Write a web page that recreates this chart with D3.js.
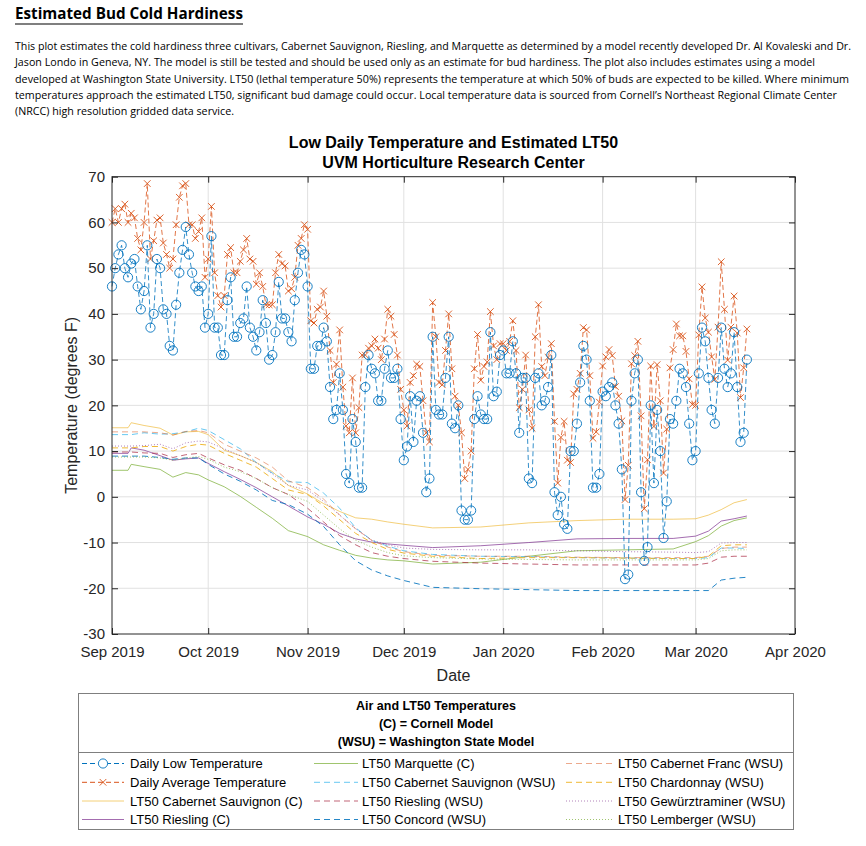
<!DOCTYPE html>
<html>
<head>
<meta charset="utf-8">
<script src="https://cdn.jsdelivr.net/npm/d3@7"></script>
<style>
  body { margin: 0; background: #fff; }
  svg text { font-family: "Liberation Sans", Arial, Helvetica, sans-serif; fill: #262626; }
  .doc { font-family: "Liberation Sans Narrow", "Open Sans", sans-serif; fill: #000; }
</style>
</head>
<body>
<div id="chart"></div>
<script>
// ---- data ----
const startDate = new Date(2019, 8, 1); // first daily value (Sep 1 2019)

// daily low temperature (F), one value per day
const lowTemps = [
  46, 50, 53, 55, 50, 48, 51, 52, 46, 41,
  45, 55, 37, 40, 52, 50, 41, 40, 33, 32,
  42, 49, 54, 59, 53, 49, 46, 45, 46, 37,
  40, 57, 37, 37, 31, 31, 43, 48, 35, 35,
  38, 39, 46, 37, 35, 32, 36, 43, 38, 30,
  31, 36, 47, 39, 39, 36, 34, 43, 49, 54,
  53, 46, 28, 28, 33, 33, 37, 34, 24, 17,
  19, 27, 19, 5, 3, 17, 12, 2, 2, 24,
  31, 28, 27, 21, 21, 28, 32, 26, 26, 28,
  17, 8, 11, 22, 12, 21, 22, 14, 1, 4,
  35, 19, 18, 18, 26, 35, 16, 15, 20, -3,
  -5, -5, -3, 17, 22, 18, 17, 17, 36, 22,
  23, 31, 32, 27, 27, 34, 27, 14, 26, 26,
  4, 3, 26, 27, 20, 21, 24, 31, 1, -4,
  0, -6, -7, 10, 10, 16, 25, 33, 30, 21,
  2, 2, 5, 23, 22, 24, 25, 20, 16, 6,
  -18, -17, 21, 27, 30, 1, -14, -11, 20, 3,
  19, 10, -9, -1, 17, 16, 21, 28, 27, 24,
  16, 8, 10, 27, 37, 34, 26, 19, 16, 26,
  37, 28, 24, 27, 36, 24, 12, 14, 30
];

// daily average temperature (F)
const avgTemps = [
  60, 63, 60, 63, 64, 60, 62, 61, 56.5, 54,
  60, 68.5, 52, 56, 60.5, 61, 55.5, 53, 50, 52,
  59.5, 65.5, 68, 68.5, 59.5, 59.5, 56.5, 58, 61, 48,
  52, 63.5, 49, 44, 41.5, 44, 53, 54.5, 49, 49,
  51.5, 54, 56.5, 52, 51.5, 46.5, 49, 46, 42, 42,
  42, 49, 53, 51, 50.5, 45, 45.5, 48, 55, 56.5,
  59.5, 58.5, 38.5, 38, 41, 41.5, 45, 39.5, 32, 25,
  29, 36.5, 24, 15.5, 14, 26, 14, 19.5, 31, 31,
  32.5, 33, 34.5, 32.5, 30, 34.5, 41, 39.5, 35.5, 31,
  23.5, 19, 15.5, 25, 26.5, 29, 28.5, 21, 14, 12,
  42.5, 35, 25, 24.5, 32, 40, 28, 22, 20, 14,
  4, 6, 10, 28, 35.5, 25.5, 28.5, 29.5, 40.5, 33,
  30, 33.5, 33.5, 32, 34, 38.5, 32, 19.5, 23.5, 31,
  19, 15, 35, 42, 28.5, 26.5, 30.5, 33.5, 16.5, 3,
  13, 16.5, 8, 7.5, 22.5, 23.5, 27, 37, 36.5, 26.5,
  12.8, 14.2, 20.7, 28.6, 30.6, 32.2, 30.9, 24.1, 22, 16.6,
  -0.6, 6.9, 29.1, 30.9, 34, 17.7, -2.6, 8.1, 28.6, 15.4,
  28.9, 21, 5.2, 14.8, 28.2, 32.2, 37.8, 35.2, 35.2, 31.8,
  25.8, 20.2, 20, 35.4, 45.9, 39.1, 36, 30.6, 25.7, 37.1,
  51.4, 41, 29.9, 37.1, 43.9, 35.8, 21.7, 28.2, 36.7
];

// LT50 estimates, read at these day offsets from startDate
const lt50Days = [0, 5, 6, 10, 15, 19, 23, 27, 30, 35, 40, 45, 50, 55, 61, 66,
  71, 76, 81, 86, 91, 100, 115, 130, 145, 160, 175, 182, 186, 190, 194, 198];

const cabSauvC = [15.1, 15.1, 16.2, 15.6, 15, 13.5, 14.2, 14.3, 13.6, 10.2, 9, 7.5, 5.5, 2.5, 0.6, -1.5,
  -3.2, -4.6, -4.9, -5.5, -6, -6.8, -6.6, -5.7, -5.2, -4.9, -4.9, -4.8, -4, -2.8, -1.3, -0.6];
const rieslingC = [9.5, 9.5, 10.7, 10.2, 9, 8, 8.3, 8.5, 7.3, 5.5, 3.8, 2, 0, -2, -4.4, -6,
  -8, -9.2, -9.9, -10.3, -10.6, -11.1, -10.7, -10, -9.2, -9.1, -9.1, -8.6, -7.5, -5.3, -4.8, -4.2];
const marquetteC = [5.8, 5.8, 7.1, 6.6, 6, 4.3, 5.3, 4.8, 3.7, 2.2, 0.1, -2.3, -4.7, -7.4, -8.7, -10.5,
  -11.7, -12.8, -13.4, -13.8, -14, -14.7, -14.3, -13, -11.8, -11.6, -11.4, -9.8, -8.5, -6.4, -5.2, -4.6];
const cabSauvWSU = [13.6, 13.6, 13.6, 14, 13.7, 13.8, 14.2, 15, 14.5, 12.5, 10.5, 7.5, 5.2, 3.3, 3.1, 0.8,
  -2.5, -6.8, -9.5, -10.8, -11.8, -12.6, -13, -13.1, -13.3, -13.4, -13.5, -13.5, -13.3, -11.2, -11.2, -11.3];
const rieslingWSU = [9.8, 9.8, 9.8, 9.6, 9.5, 8.6, 9.2, 9.5, 8.5, 7, 5.8, 4, 2, 0.5, -2.5, -5.5,
  -8.5, -10.5, -12.2, -13, -13.5, -14.1, -14.5, -14.7, -14.9, -14.9, -14.9, -14.9, -14.5, -13.2, -13, -13];
const concordWSU = [8.9, 8.9, 8.9, 8.9, 8.6, 8.2, 8.5, 8.5, 7.1, 5, 3.4, 1.5, -0.8, -1.7, -3.8, -6.5,
  -10.5, -14, -16, -17.3, -18.3, -19.8, -20.1, -20.3, -20.5, -20.5, -20.5, -20.5, -20.5, -18.2, -17.8, -17.6];
const cabFrancWSU = [14.2, 14.2, 14.2, 14.2, 14, 13.5, 14.3, 14.5, 14, 11.5, 10, 8.5, 6.5, 3.5, 2, -0.5,
  -4, -7, -9.5, -11, -12, -12.8, -13, -13, -13.2, -13.3, -13.3, -13.3, -13, -11.3, -11, -11];
const chardonnayWSU = [10.7, 10.7, 10.7, 11, 11, 10, 11, 11.5, 11.3, 9.5, 8, 6.5, 4, 1.5, 0.5, -2,
  -5, -8, -10, -11.5, -12.3, -13, -13.5, -13.3, -13.3, -13.4, -13.5, -13.5, -13, -10.7, -10.5, -10.5];
const gewurzWSU = [11.1, 11.1, 11.1, 11.2, 11.5, 10.5, 11.8, 12.2, 12, 10.5, 9, 7.5, 5, 2.5, 1.5, -1,
  -4, -7, -9.5, -10.5, -11.2, -11.5, -11.6, -11.6, -11.8, -12, -12.1, -12.2, -12, -10.1, -10, -10];
const lembergerWSU = [8.7, 8.7, 8.7, 8.7, 8.5, 8, 8.5, 8.8, 8.2, 6.5, 5.5, 4, 2, 0.5, -1, -4,
  -7, -9.5, -11, -12.2, -12.9, -13.3, -13.6, -13.7, -13.8, -13.8, -13.8, -13.8, -13.5, -11.8, -11.6, -11.6];

const yTicks = [-30, -20, -10, 0, 10, 20, 30, 40, 50, 60, 70];
const monthTicks = [new Date(2019, 8, 1), new Date(2019, 9, 1), new Date(2019, 10, 1), new Date(2019, 11, 1),
  new Date(2020, 0, 1), new Date(2020, 1, 1), new Date(2020, 2, 1), new Date(2020, 3, 1)];

const pageTitle = 'Estimated Bud Cold Hardiness';
const introLines = [
  'This plot estimates the cold hardiness three cultivars, Cabernet Sauvignon, Riesling, and Marquette as determined by a model recently developed Dr. Al Kovaleski and Dr.',
  'Jason Londo in Geneva, NY. The model is still be tested and should be used only as an estimate for bud hardiness. The plot also includes estimates using a model',
  'developed at Washington State University. LT50 (lethal temperature 50%) represents the temperature at which 50% of buds are expected to be killed. Where minimum',
  'temperatures approach the estimated LT50, significant bud damage could occur. Local temperature data is sourced from Cornell\u2019s Northeast Regional Climate Center',
  '(NRCC) high resolution gridded data service.'
];
const introWidths = [836, 800, 834, 822, 219];
const chartTitle = ['Low Daily Temperature and Estimated LT50', 'UVM Horticulture Research Center'];
const legendTitle = ['Air and LT50 Temperatures', '(C) = Cornell Model', '(WSU) = Washington State Model'];

// LT50 series: name, values, colour, dash style, opacity
const lt50Series = [
  { name: 'LT50 Cabernet Sauvignon (C)', values: cabSauvC, color: '#EDB120', dash: null, op: 0.6 },
  { name: 'LT50 Riesling (C)', values: rieslingC, color: '#7E2F8E', dash: null, op: 0.7 },
  { name: 'LT50 Marquette (C)', values: marquetteC, color: '#77AC30', dash: null, op: 0.7 },
  { name: 'LT50 Cabernet Sauvignon (WSU)', values: cabSauvWSU, color: '#4DBEEE', dash: '6,4', op: 0.85 },
  { name: 'LT50 Riesling (WSU)', values: rieslingWSU, color: '#A2142F', dash: '6,4', op: 0.65 },
  { name: 'LT50 Concord (WSU)', values: concordWSU, color: '#0072BD', dash: '6,4', op: 0.85 },
  { name: 'LT50 Cabernet Franc (WSU)', values: cabFrancWSU, color: '#D95319', dash: '6,4', op: 0.5 },
  { name: 'LT50 Chardonnay (WSU)', values: chardonnayWSU, color: '#EDB120', dash: '6,4', op: 0.9 },
  { name: 'LT50 Gew\u00fcrztraminer (WSU)', values: gewurzWSU, color: '#7E2F8E', dash: '1,2', op: 0.6 },
  { name: 'LT50 Lemberger (WSU)', values: lembergerWSU, color: '#77AC30', dash: '1,2', op: 0.7 }
];

// ---- drawing ----
const W = 866, H = 846;
const plotL = 112, plotR = 795, plotT = 176.7, plotB = 634;

const svg = d3.select('#chart').append('svg')
  .attr('width', W).attr('height', H)
  .style('background', '#fff');

// page header
svg.append('text')
  .attr('class', 'doc')
  .attr('x', 15).attr('y', 19)
  .attr('textLength', 228).attr('lengthAdjust', 'spacingAndGlyphs')
  .style('font-size', '16px').style('font-weight', 'bold')
  .text(pageTitle);
svg.append('line')
  .attr('x1', 15).attr('x2', 243).attr('y1', 24).attr('y2', 24)
  .attr('stroke', '#000').attr('stroke-width', 1.2);

svg.selectAll('text.intro')
  .data(introLines)
  .enter()
  .append('text')
  .attr('class', 'doc intro')
  .attr('x', 15)
  .attr('y', (d, i) => 50 + i * 16.3)
  .attr('textLength', (d, i) => introWidths[i])
  .attr('lengthAdjust', 'spacingAndGlyphs')
  .style('font-size', '10px')
  .text(d => d);

const x = d3.scaleTime()
  .domain([monthTicks[0], monthTicks[monthTicks.length - 1]])
  .range([plotL, plotR]);
const y = d3.scaleLinear().domain([-30, 70]).range([plotB, plotT]);

const dayDate = i => d3.timeDay.offset(startDate, i);

// grid
const grid = svg.append('g');
grid.selectAll('line.gx')
  .data(monthTicks.slice(1, -1))
  .enter().append('line')
  .attr('x1', d => x(d)).attr('x2', d => x(d))
  .attr('y1', plotT).attr('y2', plotB)
  .attr('stroke', '#e1e1e1').attr('stroke-width', 1);
grid.selectAll('line.gy')
  .data(yTicks.slice(1, -1))
  .enter().append('line')
  .attr('x1', plotL).attr('x2', plotR)
  .attr('y1', d => y(d)).attr('y2', d => y(d))
  .attr('stroke', '#e1e1e1').attr('stroke-width', 1);

// LT50 lines
const ltLine = d3.line()
  .x((d, i) => x(dayDate(lt50Days[i])))
  .y(d => y(d));
svg.append('g')
  .selectAll('path')
  .data(lt50Series)
  .enter()
  .append('path')
  .attr('d', d => ltLine(d.values))
  .attr('fill', 'none')
  .attr('stroke', d => d.color)
  .attr('stroke-opacity', d => d.op)
  .attr('stroke-width', 1)
  .attr('stroke-dasharray', d => d.dash);

// daily temperatures
const dayLine = d3.line()
  .x((d, i) => x(dayDate(i)))
  .y(d => y(d));

svg.append('path')
  .attr('d', dayLine(avgTemps))
  .attr('fill', 'none').attr('stroke', '#D95319')
  .attr('stroke-width', 0.8).attr('stroke-dasharray', '5,3');
svg.append('g')
  .selectAll('path')
  .data(avgTemps)
  .enter().append('path')
  .attr('transform', (d, i) => `translate(${x(dayDate(i))},${y(d)})`)
  .attr('d', 'M-3.3,-3.3L3.3,3.3M-3.3,3.3L3.3,-3.3')
  .attr('stroke', '#D95319').attr('stroke-width', 0.9);

svg.append('path')
  .attr('d', dayLine(lowTemps))
  .attr('fill', 'none').attr('stroke', '#0072BD')
  .attr('stroke-width', 0.8).attr('stroke-dasharray', '5,3');
svg.append('g')
  .selectAll('circle')
  .data(lowTemps)
  .enter().append('circle')
  .attr('cx', (d, i) => x(dayDate(i)))
  .attr('cy', d => y(d))
  .attr('r', 4.6)
  .attr('fill', 'none').attr('stroke', '#0072BD').attr('stroke-width', 0.9);

// axes
const fmt = d3.timeFormat('%b %Y');
const xAxis = svg.append('g')
  .attr('transform', `translate(0,${plotB})`)
  .call(d3.axisBottom(x).tickValues(monthTicks).tickFormat(fmt).tickSizeInner(-6).tickSizeOuter(0).tickPadding(12));
const xTop = svg.append('g')
  .attr('transform', `translate(0,${plotT})`)
  .call(d3.axisTop(x).tickValues(monthTicks).tickFormat('').tickSizeInner(-6).tickSizeOuter(0));
const yAxis = svg.append('g')
  .attr('transform', `translate(${plotL},0)`)
  .call(d3.axisLeft(y).tickValues(yTicks).tickFormat(d => String(d))
    .tickSizeInner(-6).tickSizeOuter(0).tickPadding(7));
const yRight = svg.append('g')
  .attr('transform', `translate(${plotR},0)`)
  .call(d3.axisRight(y).tickValues(yTicks).tickFormat('').tickSizeInner(-6).tickSizeOuter(0));

[xAxis, xTop, yAxis, yRight].forEach(g => {
  g.select('.domain').remove();
  g.selectAll('line').attr('stroke', '#262626');
  g.selectAll('text').style('font-size', '15px').attr('fill', '#262626')
    .style('font-family', '"Liberation Sans", Arial, sans-serif');
});

svg.append('rect')
  .attr('x', plotL).attr('y', plotT)
  .attr('width', plotR - plotL).attr('height', plotB - plotT)
  .attr('fill', 'none').attr('stroke', '#262626').attr('stroke-width', 1);

// titles
svg.selectAll('text.ctitle')
  .data(chartTitle)
  .enter().append('text')
  .attr('class', 'ctitle')
  .attr('x', (plotL + plotR) / 2)
  .attr('y', (d, i) => 148 + i * 20)
  .attr('text-anchor', 'middle')
  .style('font-size', '16px').style('font-weight', 'bold')
  .style('fill', '#000')
  .text(d => d);

svg.append('text')
  .attr('transform', `translate(77,${(plotT + plotB) / 2}) rotate(-90)`)
  .attr('text-anchor', 'middle')
  .style('font-size', '16px')
  .text('Temperature (degrees F)');

svg.append('text')
  .attr('x', (plotL + plotR) / 2).attr('y', 681)
  .attr('text-anchor', 'middle')
  .style('font-size', '16px')
  .text('Date');

// legend
const lg = svg.append('g');
lg.append('rect')
  .attr('x', 78.5).attr('y', 693.5).attr('width', 715).attr('height', 136)
  .attr('fill', '#fff').attr('stroke', '#7f7f7f').attr('stroke-width', 1);
lg.append('line')
  .attr('x1', 78.5).attr('x2', 793.5).attr('y1', 752.5).attr('y2', 752.5)
  .attr('stroke', '#7f7f7f').attr('stroke-width', 1);
lg.selectAll('text.lt')
  .data(legendTitle)
  .enter().append('text')
  .attr('class', 'lt')
  .attr('x', 436).attr('y', (d, i) => 710 + i * 18)
  .attr('text-anchor', 'middle')
  .style('font-size', '12.5px').style('font-weight', 'bold')
  .style('fill', '#000')
  .text(d => d);

const legendItems = [
  { name: 'Daily Low Temperature', color: '#0072BD', dash: '5,3', op: 1, marker: 'o' },
  { name: 'Daily Average Temperature', color: '#D95319', dash: '5,3', op: 1, marker: 'x' },
  lt50Series[0], lt50Series[1], lt50Series[2], lt50Series[3],
  lt50Series[4], lt50Series[5], lt50Series[6], lt50Series[7],
  lt50Series[8], lt50Series[9]
];
const colSample = [[82, 124], [314, 358], [566, 613]];
const colText = [130, 362, 618];
const rowY = [763.5, 782.3, 801, 819.5];

legendItems.forEach((d, k) => {
  const col = Math.floor(k / 4), row = k % 4;
  const [x0, x1] = colSample[col], yy = rowY[row];
  lg.append('line')
    .attr('x1', x0).attr('x2', x1).attr('y1', yy).attr('y2', yy)
    .attr('stroke', d.color).attr('stroke-opacity', d.op)
    .attr('stroke-width', 1).attr('stroke-dasharray', d.dash);
  if (d.marker === 'o') {
    lg.append('circle').attr('cx', (x0 + x1) / 2).attr('cy', yy).attr('r', 4.6)
      .attr('fill', '#fff').attr('stroke', d.color).attr('stroke-width', 0.9);
  } else if (d.marker === 'x') {
    lg.append('path').attr('transform', `translate(${(x0 + x1) / 2},${yy})`)
      .attr('d', 'M-3.3,-3.3L3.3,3.3M-3.3,3.3L3.3,-3.3')
      .attr('stroke', d.color).attr('stroke-width', 0.9);
  }
  lg.append('text')
    .attr('x', colText[col]).attr('y', yy + 4.5)
    .style('font-size', '13px')
    .style('fill', '#000')
    .text(d.name);
});
</script>
</body>
</html>
